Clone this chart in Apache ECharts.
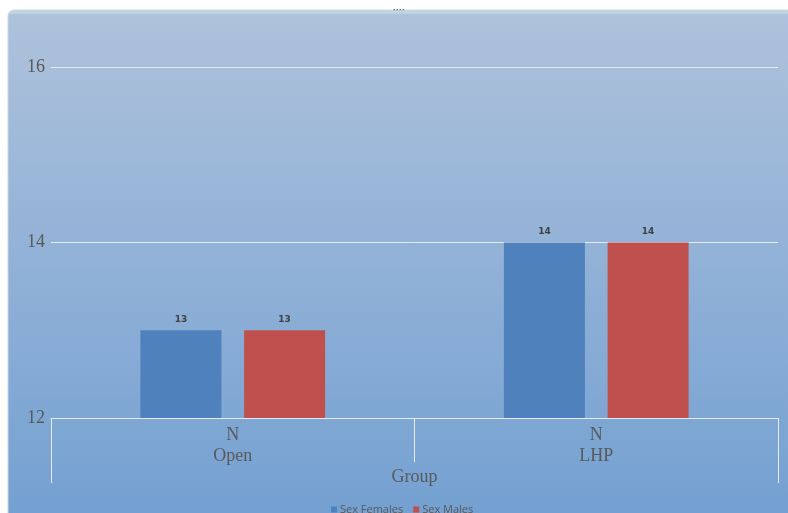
<!DOCTYPE html>
<html>
<head>
<meta charset="utf-8">
<script src="https://cdn.jsdelivr.net/npm/echarts@6/dist/echarts.min.js"></script>
<style>
  html, body { margin: 0; padding: 0; background: #ffffff; }
  #chart { width: 788px; height: 513px; }
</style>
</head>
<body>
<div id="chart"></div>
<script>
// Group categories (two-level labels: measure over group name)
const groups = ['Open', 'LHP'];
const measure = 'N';
const outerLabel = 'Group';
// Counts per sex
const females = [13, 14];
const males = [13, 14];
const seriesNames = ['Sex Females', 'Sex Males'];
// Value axis
const yMin = 12, yMax = 16, yStep = 2;

const serif = '"Liberation Serif", "DejaVu Serif", serif';
const labelGrey = '#595959';

const chart = echarts.init(document.getElementById('chart'), null, { renderer: 'canvas' });

chart.setOption({
  animation: false,
  backgroundColor: '#ffffff',
  graphic: [
    {
      type: 'rect', z: -10, silent: true,
      shape: { x: 8, y: 10, width: 790, height: 510, r: [6, 0, 0, 0] },
      style: {
        fill: new echarts.graphic.LinearGradient(0, 0, 0, 1, [
          { offset: 0, color: '#c0d9e4' },
          { offset: 0.008, color: '#bcd3e0' },
          { offset: 0.01, color: '#aec2db' },
          { offset: 0.5, color: '#91b1d7' },
          { offset: 1, color: '#73a0d1' }
        ]),
        stroke: '#c9d6e3', lineWidth: 1
      }
    },
    {
      type: 'text', z: -5, silent: true, left: 393, top: 6,
      style: { text: '····', fill: '#6b6b6b', font: 'bold 9px sans-serif' }
    }
  ],
  grid: { left: 51, right: 10, top: 67, bottom: 95, containLabel: false },
  legend: {
    data: seriesNames,
    bottom: -7,
    left: 326,
    itemWidth: 6, itemHeight: 6, itemGap: 10,
    icon: 'rect',
    textStyle: { color: labelGrey, fontSize: 11, fontFamily: '"Open Sans", "DejaVu Sans", sans-serif', padding: [0, 0, 0, -2] }
  },
  xAxis: [
    {
      type: 'category',
      data: groups.map(g => measure + '\n' + g),
      position: 'bottom',
      axisLine: { show: true, lineStyle: { color: '#e6ecf2', width: 1 } },
      axisTick: { show: true, length: 44, alignWithLabel: false, lineStyle: { color: '#e6ecf2', width: 1 } },
      axisLabel: { color: labelGrey, fontFamily: serif, fontSize: 18, lineHeight: 21, margin: 7 },
      splitLine: { show: false }
    },
    {
      type: 'category',
      data: [outerLabel],
      position: 'bottom',
      axisLine: { show: false },
      axisTick: { show: true, length: 65, lineStyle: { color: '#e6ecf2', width: 1 } },
      axisLabel: { color: labelGrey, fontFamily: serif, fontSize: 18, margin: 50 },
      splitLine: { show: false }
    }
  ],
  yAxis: {
    type: 'value',
    min: yMin, max: yMax, interval: yStep,
    axisLine: { show: false },
    axisTick: { show: false },
    axisLabel: { color: labelGrey, fontFamily: serif, fontSize: 18, margin: 6 },
    splitLine: { show: true, lineStyle: { color: '#e6ecf2', width: 1 } }
  },
  series: [
    {
      name: seriesNames[0], type: 'bar', xAxisIndex: 0,
      data: females, barWidth: 81, barGap: '28%',
      itemStyle: { color: '#4f81bd' },
      label: { show: true, position: 'top', distance: 6, color: '#404040', fontSize: 9, fontWeight: 'bold', fontFamily: '"DejaVu Sans", sans-serif' }
    },
    {
      name: seriesNames[1], type: 'bar', xAxisIndex: 0,
      data: males, barWidth: 81, barGap: '28%',
      itemStyle: { color: '#c0504d' },
      label: { show: true, position: 'top', distance: 6, color: '#404040', fontSize: 9, fontWeight: 'bold', fontFamily: '"DejaVu Sans", sans-serif' }
    }
  ]
});
</script>
</body>
</html>
